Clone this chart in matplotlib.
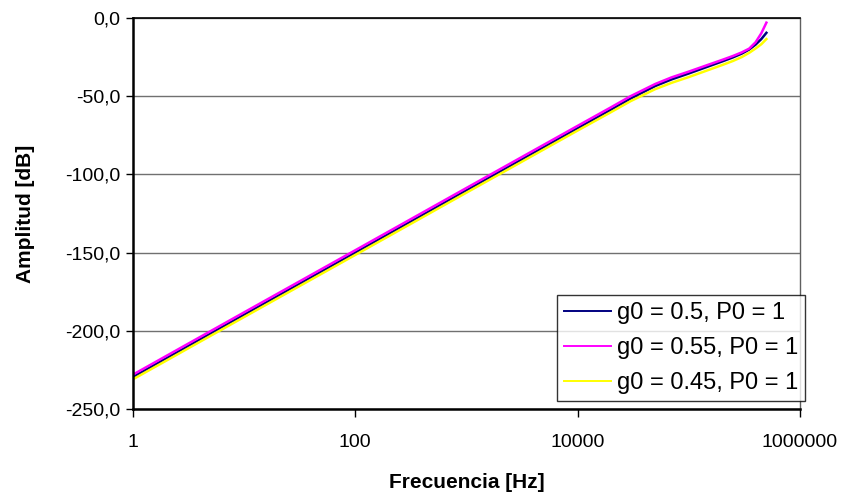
import matplotlib.pyplot as plt
from matplotlib.ticker import FuncFormatter, FixedLocator, NullLocator

plt.rcParams['font.family'] = ['Liberation Sans', 'DejaVu Sans']

# frequency points [Hz]
freq = [1, 10, 100, 1000, 1e4, 2e4, 3e4, 5e4, 7e4, 1e5, 1.5e5, 2e5,
        2.5e5, 3e5, 3.5e5, 4e5, 4.5e5, 5e5]

# amplitude [dB] for each series
amp_g050 = [-229.5, -189.7, -150.0, -110.2, -70.5, -58.6, -51.5, -43.5, -39.3,
            -35.5, -31.0, -27.8, -25.2, -22.8, -20.2, -17.0, -13.5, -9.5]
amp_g055 = [-228.0, -188.2, -148.5, -108.7, -69.0, -57.1, -50.0, -42.2, -38.0,
            -34.3, -29.9, -26.8, -24.3, -22.0, -19.6, -15.5, -9.8, -3.0]
amp_g045 = [-231.0, -191.2, -151.5, -111.7, -72.0, -60.2, -53.2, -45.5, -41.5,
            -37.8, -33.3, -30.1, -27.5, -25.0, -22.3, -19.5, -16.8, -13.5]

labels = ['g0 = 0.5, P0 = 1', 'g0 = 0.55, P0 = 1', 'g0 = 0.45, P0 = 1']
colors = ['#000080', '#FF00FF', '#FFFF00']

y_ticks = [0, -50, -100, -150, -200, -250]
x_ticks = [1, 100, 10000, 1000000]

fig = plt.figure(figsize=(8.5, 4.99), dpi=100)
ax = fig.add_axes([0.1565, 0.1804, 0.7845, 0.7836])

for amp, lab, col in zip([amp_g050, amp_g055, amp_g045], labels, colors):
    ax.plot(freq, amp, color=col, lw=1.8, label=lab)

ax.set_xscale('log')
ax.set_xlim(1, 1e6)
ax.set_ylim(-250, 0)
ax.xaxis.set_major_locator(FixedLocator(x_ticks))
ax.xaxis.set_minor_locator(NullLocator())
ax.xaxis.set_major_formatter(FuncFormatter(lambda v, p: '%d' % round(v)))
ax.yaxis.set_major_locator(FixedLocator(y_ticks))
ax.yaxis.set_major_formatter(FuncFormatter(lambda v, p: ('%.1f' % v).replace('.', ',')))

ax.grid(True, axis='y', color='#707070', lw=1.0)
ax.set_axisbelow(True)
ax.spines['right'].set_color('#606060')
ax.spines['right'].set_linewidth(1.0)
ax.spines['top'].set_color('#000000')
ax.spines['top'].set_linewidth(1.2)
ax.spines['left'].set_linewidth(1.8)
ax.spines['bottom'].set_linewidth(1.8)
ax.tick_params(axis='y', direction='out', length=5, width=1, labelsize=14, pad=4)
ax.tick_params(axis='x', direction='out', length=6, width=1, labelsize=14, pad=12)

ax.set_xlabel('Frecuencia [Hz]', fontsize=15, fontweight='bold', labelpad=16)
ax.set_ylabel('Amplitud [dB]', fontsize=15, fontweight='bold', labelpad=22)

leg = ax.legend(loc='lower right', bbox_to_anchor=(1.008, 0.02), fontsize=17,
                frameon=True, fancybox=False, edgecolor='black',
                handlelength=2.0, handletextpad=0.25, labelspacing=0.55,
                borderpad=0.3, borderaxespad=0)
leg.get_frame().set_linewidth(1.0)
for h in leg.get_lines():
    h.set_linewidth(1.4)

fig.savefig('out.png', dpi=100)
